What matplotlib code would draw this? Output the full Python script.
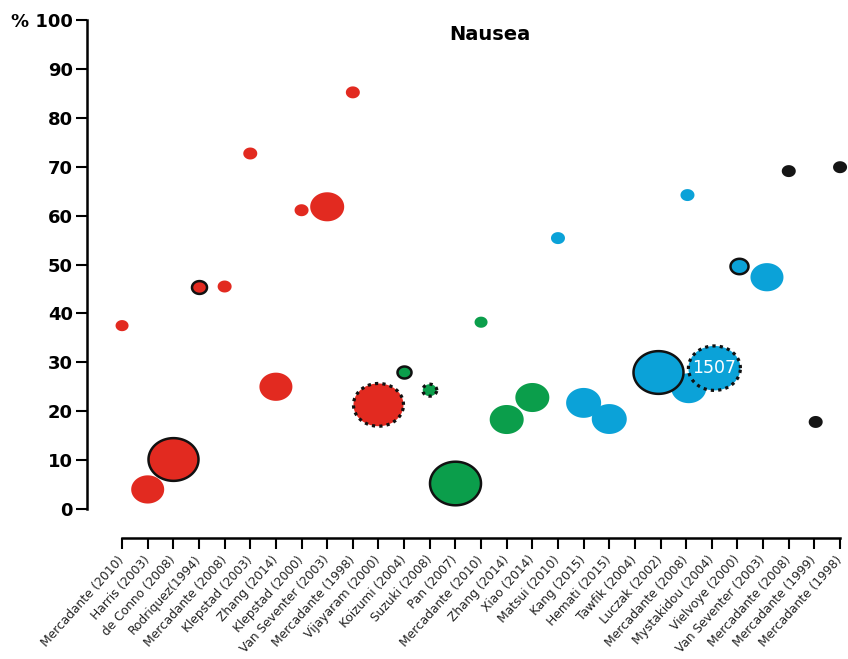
import numpy as np
import matplotlib.pyplot as plt
from matplotlib.path import Path

# studies on the x axis (one tick each)
studies = ["Mercadante (2010)", "Harris (2003)", "de Conno (2008)", "Rodriquez(1994)",
           "Mercadante (2008)", "Klepstad (2003)", "Zhang (2014)", "Klepstad (2000)",
           "Van Seventer (2003)", "Mercadante (1998)", "Vijayaram (2000)", "Koizumi (2004)",
           "Suzuki (2008)", "Pan (2007)", "Mercadante (2010)", "Zhang (2014)", "Xiao (2014)",
           "Matsui (2010)", "Kang (2015)", "Hemati (2015)", "Tawfik (2004)", "Luczak (2002)",
           "Mercadante (2008)", "Mystakidou (2004)", "Vielvoye (2000)", "Van Seventer (2003)",
           "Mercadante (2008)", "Mercadante (1999)", "Mercadante (1998)"]

# bubbles: category position, % nausea, bubble width, colour group, outline
bubble_x = [0, 1, 2, 3, 4, 5, 6, 7, 8, 9, 10, 11, 12, 13, 14, 15, 16,
            17, 18, 19, 20.9, 22.05, 22.1, 23.1, 24.05, 25.15, 26, 27.05, 28]
bubble_y = [37.5, 4.0, 10.3, 45.3, 45.5, 72.7, 25.0, 61.1, 61.8, 85.2, 21.3, 28.0,
            24.3, 5.3, 38.2, 18.3, 22.8, 55.4, 21.7, 18.4, 28.0, 64.2, 24.7, 28.8,
            49.7, 47.4, 69.1, 17.8, 69.9]
bubble_w = [13, 33, 50, 15, 14, 14, 33, 14, 34, 14, 50, 14, 14, 51, 13, 34, 34,
            14, 35, 35, 50, 14, 35, 52, 18, 33, 14, 14, 14]
group = ["red"] * 11 + ["green"] * 6 + ["blue"] * 9 + ["black"] * 3
outline = ["", "", "solid", "solid", "", "", "", "", "", "", "dotted", "solid",
           "dotted", "solid", "", "", "", "", "", "", "solid", "", "", "dotted",
           "solid", "", "", "", ""]
label_text = {23: "1507"}

colours = {"red": "#e22a20", "green": "#0b9e4b", "blue": "#0ba2d8", "black": "#151515"}

# bubbles in the picture are a bit wider than tall
t = np.linspace(0, 2 * np.pi, 120)
ell = Path(np.column_stack([1.17 * np.cos(t), np.sin(t)]), closed=True)

fig = plt.figure(figsize=(8.48, 6.59), dpi=100)
ax = fig.add_axes([87 / 848, 150 / 659, 761 / 848, 489 / 659])

order = {"": 0, "solid": 1, "dotted": 2}
idx = sorted(range(len(bubble_x)), key=lambda i: order[outline[i]])
for i in idx:
    s = (bubble_w[i] * 0.72) ** 2
    if outline[i] == "solid":
        ax.scatter(bubble_x[i], bubble_y[i], s=s, marker=ell, c=colours[group[i]],
                   edgecolors="#111111", linewidths=1.8, clip_on=False, zorder=3)
    elif outline[i] == "dotted":
        ax.scatter(bubble_x[i], bubble_y[i], s=s, marker=ell, c=colours[group[i]],
                   edgecolors="#111111", linewidths=2.3, linestyles=(0, (1, 1.3)),
                   clip_on=False, zorder=4)
    else:
        ax.scatter(bubble_x[i], bubble_y[i], s=s, marker=ell, c=colours[group[i]],
                   edgecolors="none", clip_on=False, zorder=2)

for i, txt in label_text.items():
    ax.text(bubble_x[i], bubble_y[i], txt, color="white", fontsize=12.5,
            ha="center", va="center", zorder=5)

ax.set_xlim(-1.367, 28.31)
ax.set_ylim(0, 100)

for sp in ["top", "right"]:
    ax.spines[sp].set_visible(False)
ax.spines["left"].set_bounds(0, 100)
ax.spines["left"].set_linewidth(1.8)
ax.spines["bottom"].set_position(("outward", 21))
ax.spines["bottom"].set_bounds(0, 28)
ax.spines["bottom"].set_linewidth(1.8)

yt = list(range(0, 101, 10))
ax.set_yticks(yt)
ax.set_yticklabels([str(v) for v in yt[:-1]] + ["% 100"], fontsize=13, fontweight="bold")
ax.tick_params(axis="y", length=8, width=1.5, pad=2)

ax.set_xticks(range(len(studies)))
ax.set_xticklabels(studies, rotation=48, ha="right", va="center",
                   rotation_mode="anchor", fontsize=8.8, color="#222222")
ax.tick_params(axis="x", length=8, width=1.5, pad=6)

ax.text(0.529, 0.97, "Nausea", transform=ax.transAxes, fontsize=14,
        fontweight="bold", ha="center", va="center")

fig.savefig("out.png", dpi=100)
